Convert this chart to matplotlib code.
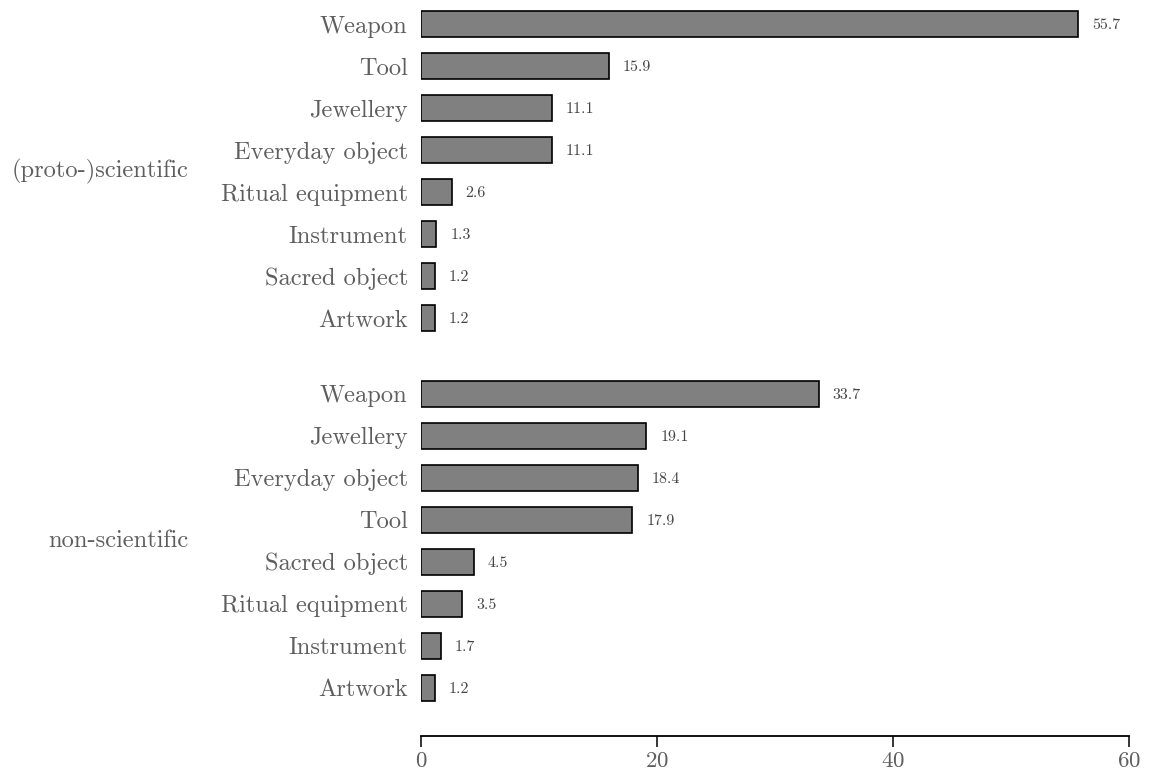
import matplotlib
matplotlib.use("Agg")
import matplotlib.pyplot as plt
import numpy as np

plt.rcParams["font.family"] = ["cmr10", "DejaVu Serif"]
plt.rcParams["mathtext.fontset"] = "cm"
plt.rcParams["axes.formatter.use_mathtext"] = True

# share of objects per category (%)
SCI_LABEL = "(proto-)scientific"
SCI_CATS = ["Weapon", "Tool", "Jewellery", "Everyday object",
            "Ritual equipment", "Instrument", "Sacred object", "Artwork"]
SCI_VALS = [55.7, 15.9, 11.1, 11.1, 2.6, 1.3, 1.2, 1.2]

NON_LABEL = "non-scientific"
NON_CATS = ["Weapon", "Jewellery", "Everyday object", "Tool",
            "Sacred object", "Ritual equipment", "Instrument", "Artwork"]
NON_VALS = [33.7, 19.1, 18.4, 17.9, 4.5, 3.5, 1.7, 1.2]

X_TICKS = [0, 20, 40, 60]

TEXT_COLOR = "#5e5e5e"
GROUP_GAP = 1.8

fig = plt.figure(figsize=(11.5, 7.75), dpi=100)
ax = fig.add_axes([421 / 1150, 39 / 775, 708 / 1150, 736 / 775])

groups = [(SCI_LABEL, SCI_CATS, SCI_VALS), (NON_LABEL, NON_CATS, NON_VALS)]
ypos_all, labels_all = [], []
start = 0.0
for name, cats, vals in groups:
    ypos = start + np.arange(len(cats))
    ax.barh(ypos, vals, height=0.62, color="#808080", edgecolor="black", linewidth=1.2)
    for y, v in zip(ypos, vals):
        ax.annotate(f"{v:.1f}", (v, y), xytext=(10, -1), textcoords="offset points",
                    ha="left", va="center", fontsize=11.5, color="#444444")
    # group name sits to the left of its block of rows
    ax.text(-0.329, ypos.mean(), name, transform=ax.get_yaxis_transform(),
            ha="right", va="center", fontsize=17.6, color=TEXT_COLOR)
    ypos_all.extend(ypos)
    labels_all.extend(cats)
    start = ypos[-1] + GROUP_GAP

ax.set_yticks(ypos_all)
ax.set_yticklabels(labels_all)
ax.set_ylim(16.95, -0.571)
ax.set_xlim(0, 60)
ax.set_xticks(X_TICKS)

for side in ["top", "right", "left"]:
    ax.spines[side].set_visible(False)
ax.spines["bottom"].set_linewidth(1.3)
ax.spines["bottom"].set_bounds(0, 60)
ax.tick_params(axis="y", length=0, pad=9.5, labelsize=17.6, labelcolor=TEXT_COLOR)
ax.tick_params(axis="x", length=8, width=1.1, pad=3, labelsize=16.5, labelcolor=TEXT_COLOR)

fig.savefig("out.png", dpi=100)
